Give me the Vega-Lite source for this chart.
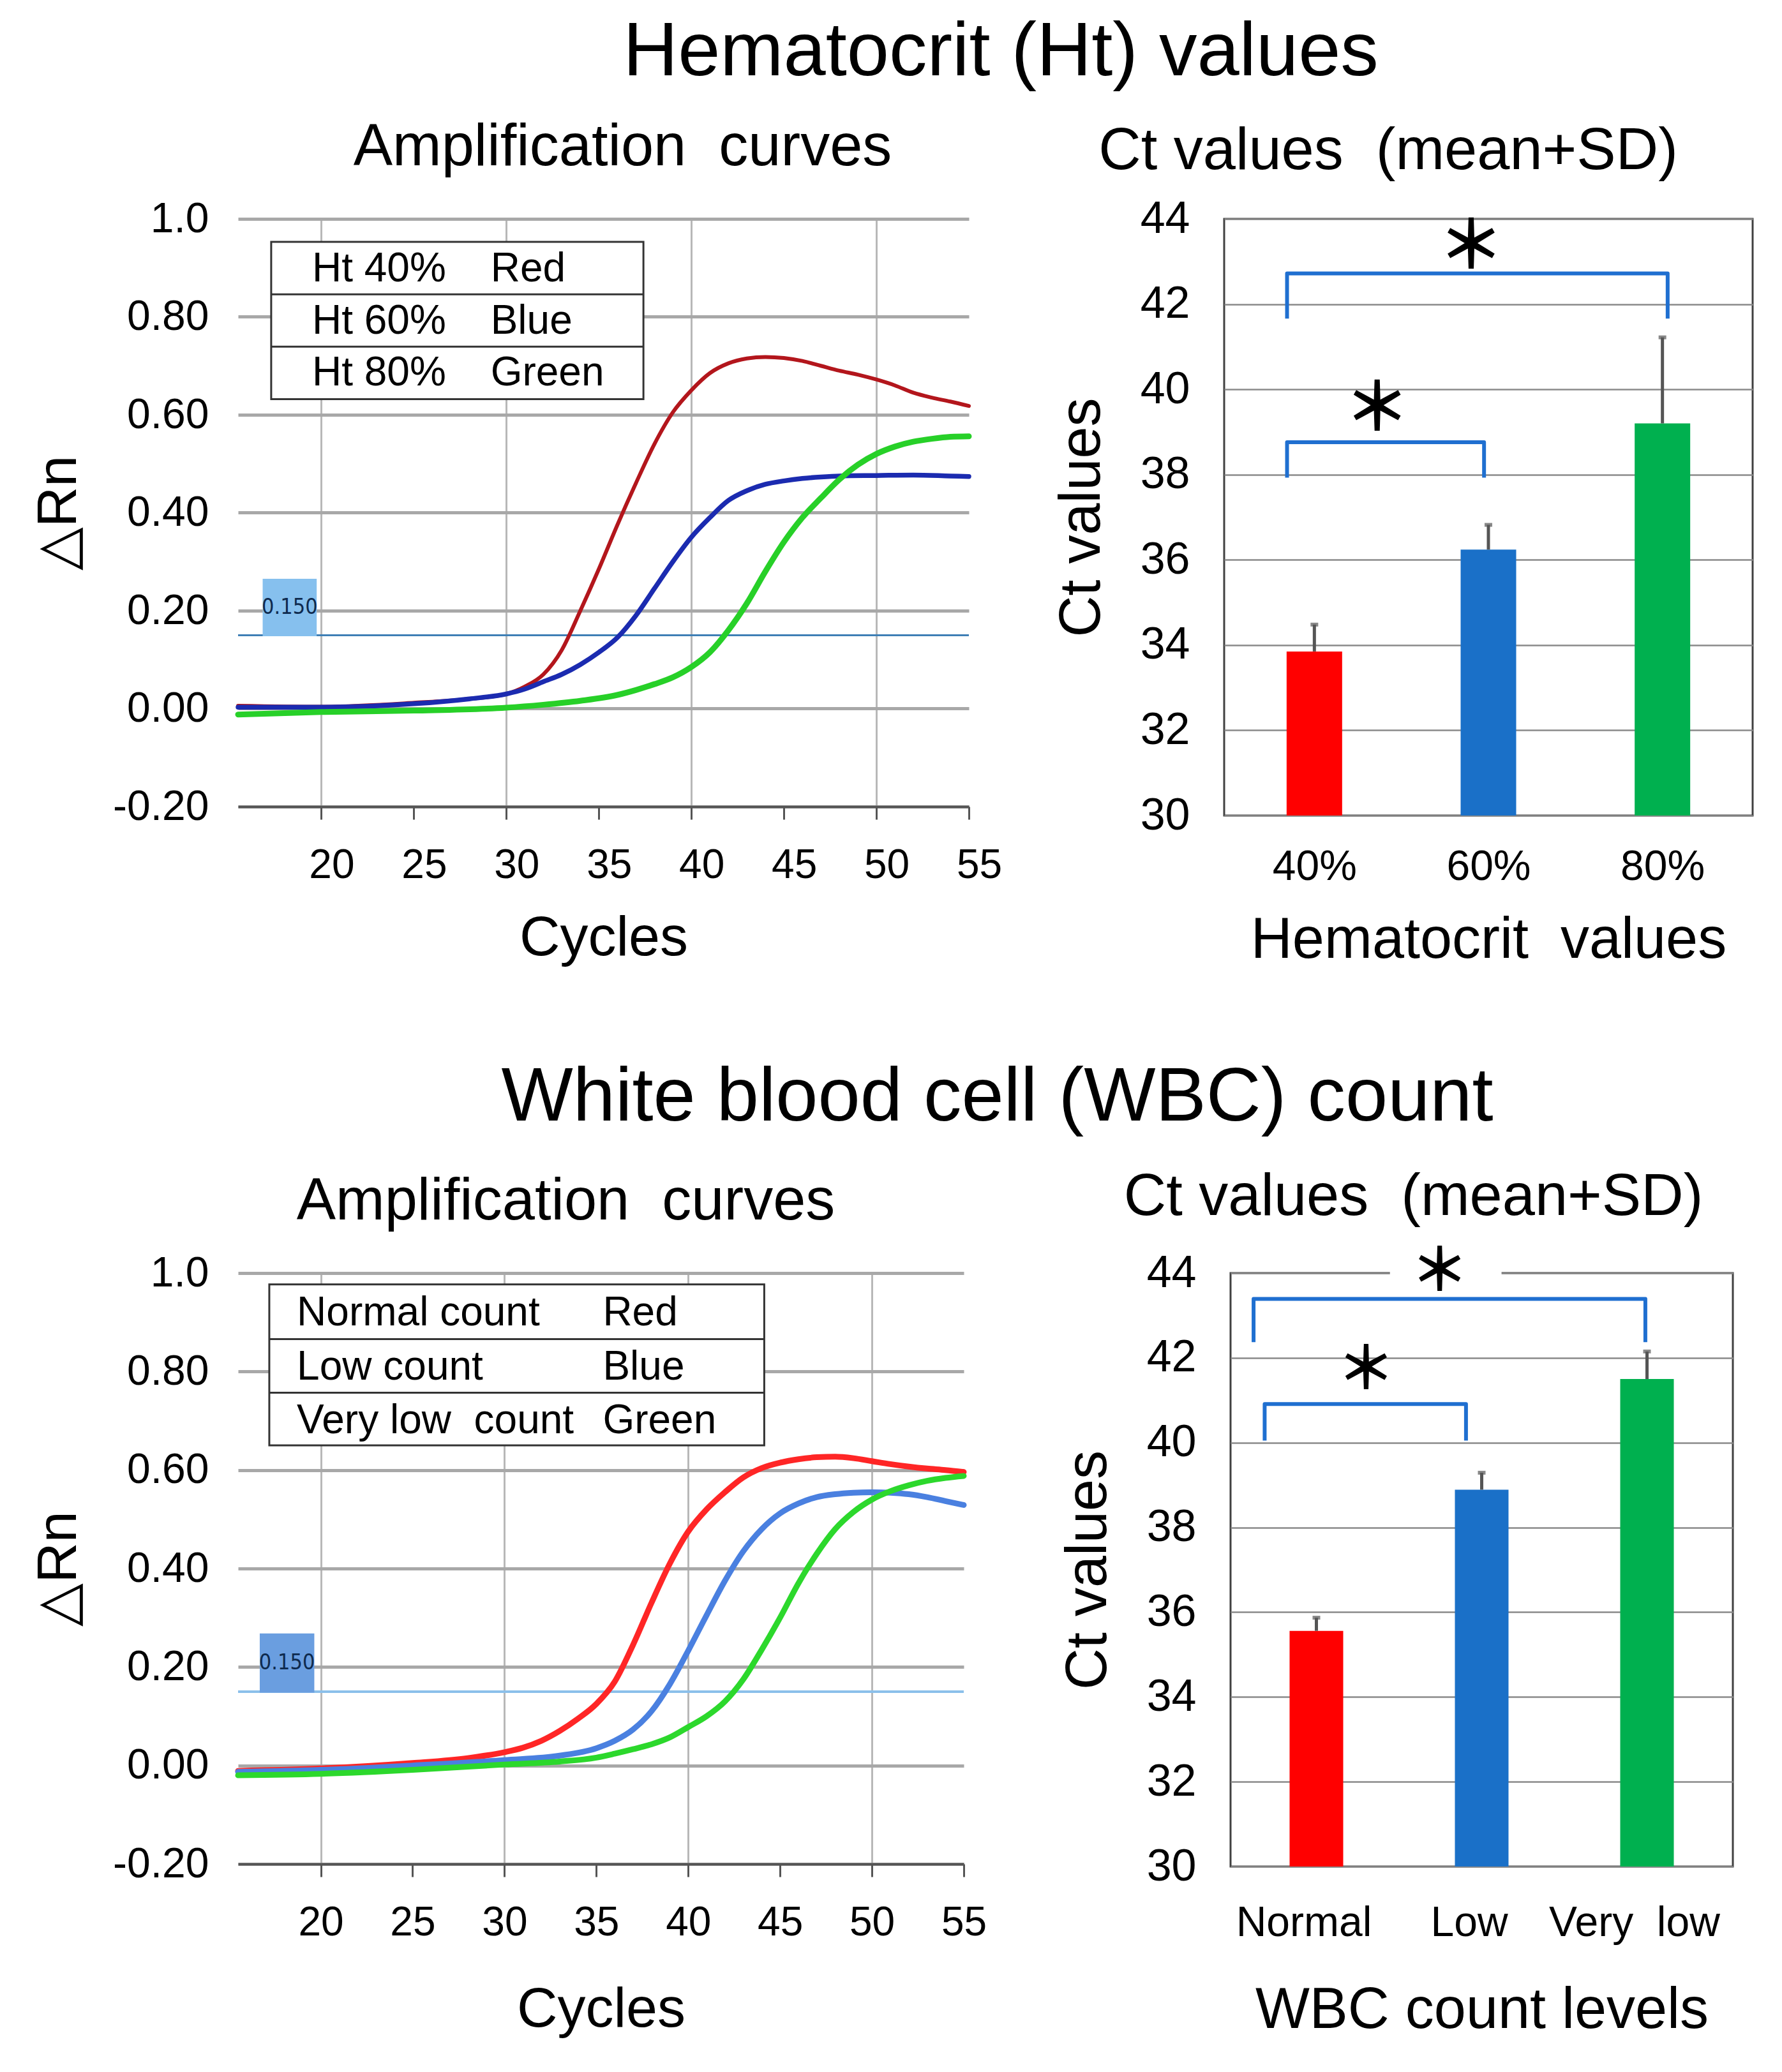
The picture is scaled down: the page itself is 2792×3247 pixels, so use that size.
{
  "$schema": "https://vega.github.io/schema/vega-lite/v6.json",
  "background": "white",
  "padding": {"left": 48, "top": 23, "right": 10, "bottom": 10},
  "config": {
    "font": "Liberation Sans",
    "view": {"stroke": null},
    "title": {"font": "Liberation Sans", "fontWeight": "normal", "color": "black"},
    "axis": {
      "labelFont": "Liberation Sans",
      "titleFont": "Liberation Sans",
      "labelColor": "black",
      "titleColor": "black",
      "titleFontWeight": "normal",
      "labelFlush": false,
      "labelOverlap": false,
      "labelLimit": 0
    }
  },
  "datasets": {
    "ht_curves": [
      {"cycle": 15.5, "dRn": 0.006, "sample": "Ht 40%"},
      {"cycle": 20, "dRn": 0.004, "sample": "Ht 40%"},
      {"cycle": 25, "dRn": 0.012, "sample": "Ht 40%"},
      {"cycle": 28, "dRn": 0.02, "sample": "Ht 40%"},
      {"cycle": 30, "dRn": 0.03, "sample": "Ht 40%"},
      {"cycle": 31, "dRn": 0.045, "sample": "Ht 40%"},
      {"cycle": 32, "dRn": 0.07, "sample": "Ht 40%"},
      {"cycle": 33, "dRn": 0.12, "sample": "Ht 40%"},
      {"cycle": 34, "dRn": 0.2, "sample": "Ht 40%"},
      {"cycle": 35, "dRn": 0.285, "sample": "Ht 40%"},
      {"cycle": 36, "dRn": 0.375, "sample": "Ht 40%"},
      {"cycle": 37, "dRn": 0.46, "sample": "Ht 40%"},
      {"cycle": 38, "dRn": 0.54, "sample": "Ht 40%"},
      {"cycle": 39, "dRn": 0.605, "sample": "Ht 40%"},
      {"cycle": 40, "dRn": 0.65, "sample": "Ht 40%"},
      {"cycle": 41, "dRn": 0.685, "sample": "Ht 40%"},
      {"cycle": 42, "dRn": 0.705, "sample": "Ht 40%"},
      {"cycle": 43, "dRn": 0.715, "sample": "Ht 40%"},
      {"cycle": 44, "dRn": 0.718, "sample": "Ht 40%"},
      {"cycle": 45, "dRn": 0.716, "sample": "Ht 40%"},
      {"cycle": 46, "dRn": 0.71, "sample": "Ht 40%"},
      {"cycle": 47, "dRn": 0.7, "sample": "Ht 40%"},
      {"cycle": 48, "dRn": 0.69, "sample": "Ht 40%"},
      {"cycle": 49, "dRn": 0.682, "sample": "Ht 40%"},
      {"cycle": 50, "dRn": 0.672, "sample": "Ht 40%"},
      {"cycle": 51, "dRn": 0.66, "sample": "Ht 40%"},
      {"cycle": 52, "dRn": 0.645, "sample": "Ht 40%"},
      {"cycle": 53, "dRn": 0.635, "sample": "Ht 40%"},
      {"cycle": 54, "dRn": 0.627, "sample": "Ht 40%"},
      {"cycle": 55, "dRn": 0.618, "sample": "Ht 40%"},
      {"cycle": 15.5, "dRn": 0.003, "sample": "Ht 60%"},
      {"cycle": 20, "dRn": 0.003, "sample": "Ht 60%"},
      {"cycle": 25, "dRn": 0.01, "sample": "Ht 60%"},
      {"cycle": 28, "dRn": 0.02, "sample": "Ht 60%"},
      {"cycle": 30, "dRn": 0.03, "sample": "Ht 60%"},
      {"cycle": 31, "dRn": 0.04, "sample": "Ht 60%"},
      {"cycle": 32, "dRn": 0.055, "sample": "Ht 60%"},
      {"cycle": 33, "dRn": 0.07, "sample": "Ht 60%"},
      {"cycle": 34, "dRn": 0.09, "sample": "Ht 60%"},
      {"cycle": 35, "dRn": 0.115, "sample": "Ht 60%"},
      {"cycle": 36, "dRn": 0.145, "sample": "Ht 60%"},
      {"cycle": 37, "dRn": 0.19, "sample": "Ht 60%"},
      {"cycle": 38, "dRn": 0.245, "sample": "Ht 60%"},
      {"cycle": 39, "dRn": 0.3, "sample": "Ht 60%"},
      {"cycle": 40, "dRn": 0.35, "sample": "Ht 60%"},
      {"cycle": 41, "dRn": 0.39, "sample": "Ht 60%"},
      {"cycle": 42, "dRn": 0.425, "sample": "Ht 60%"},
      {"cycle": 43, "dRn": 0.445, "sample": "Ht 60%"},
      {"cycle": 44, "dRn": 0.458, "sample": "Ht 60%"},
      {"cycle": 45, "dRn": 0.465, "sample": "Ht 60%"},
      {"cycle": 46, "dRn": 0.47, "sample": "Ht 60%"},
      {"cycle": 47, "dRn": 0.473, "sample": "Ht 60%"},
      {"cycle": 48, "dRn": 0.475, "sample": "Ht 60%"},
      {"cycle": 50, "dRn": 0.476, "sample": "Ht 60%"},
      {"cycle": 52, "dRn": 0.477, "sample": "Ht 60%"},
      {"cycle": 54, "dRn": 0.475, "sample": "Ht 60%"},
      {"cycle": 55, "dRn": 0.474, "sample": "Ht 60%"},
      {"cycle": 15.5, "dRn": -0.012, "sample": "Ht 80%"},
      {"cycle": 20, "dRn": -0.007, "sample": "Ht 80%"},
      {"cycle": 25, "dRn": -0.004, "sample": "Ht 80%"},
      {"cycle": 30, "dRn": 0.002, "sample": "Ht 80%"},
      {"cycle": 32, "dRn": 0.008, "sample": "Ht 80%"},
      {"cycle": 34, "dRn": 0.016, "sample": "Ht 80%"},
      {"cycle": 36, "dRn": 0.028, "sample": "Ht 80%"},
      {"cycle": 37, "dRn": 0.038, "sample": "Ht 80%"},
      {"cycle": 38, "dRn": 0.05, "sample": "Ht 80%"},
      {"cycle": 39, "dRn": 0.064, "sample": "Ht 80%"},
      {"cycle": 40, "dRn": 0.085, "sample": "Ht 80%"},
      {"cycle": 41, "dRn": 0.115, "sample": "Ht 80%"},
      {"cycle": 42, "dRn": 0.16, "sample": "Ht 80%"},
      {"cycle": 43, "dRn": 0.215, "sample": "Ht 80%"},
      {"cycle": 44, "dRn": 0.28, "sample": "Ht 80%"},
      {"cycle": 45, "dRn": 0.34, "sample": "Ht 80%"},
      {"cycle": 46, "dRn": 0.39, "sample": "Ht 80%"},
      {"cycle": 47, "dRn": 0.43, "sample": "Ht 80%"},
      {"cycle": 48, "dRn": 0.468, "sample": "Ht 80%"},
      {"cycle": 49, "dRn": 0.498, "sample": "Ht 80%"},
      {"cycle": 50, "dRn": 0.52, "sample": "Ht 80%"},
      {"cycle": 51, "dRn": 0.535, "sample": "Ht 80%"},
      {"cycle": 52, "dRn": 0.545, "sample": "Ht 80%"},
      {"cycle": 53, "dRn": 0.551, "sample": "Ht 80%"},
      {"cycle": 54, "dRn": 0.555, "sample": "Ht 80%"},
      {"cycle": 55, "dRn": 0.556, "sample": "Ht 80%"}
    ],
    "wbc_curves": [
      {"cycle": 15.5, "dRn": -0.011, "sample": "Normal"},
      {"cycle": 20, "dRn": -0.006, "sample": "Normal"},
      {"cycle": 25, "dRn": 0.005, "sample": "Normal"},
      {"cycle": 28, "dRn": 0.015, "sample": "Normal"},
      {"cycle": 30, "dRn": 0.027, "sample": "Normal"},
      {"cycle": 31, "dRn": 0.036, "sample": "Normal"},
      {"cycle": 32, "dRn": 0.05, "sample": "Normal"},
      {"cycle": 33, "dRn": 0.07, "sample": "Normal"},
      {"cycle": 34, "dRn": 0.095, "sample": "Normal"},
      {"cycle": 35, "dRn": 0.125, "sample": "Normal"},
      {"cycle": 36, "dRn": 0.17, "sample": "Normal"},
      {"cycle": 37, "dRn": 0.245, "sample": "Normal"},
      {"cycle": 38, "dRn": 0.33, "sample": "Normal"},
      {"cycle": 39, "dRn": 0.41, "sample": "Normal"},
      {"cycle": 40, "dRn": 0.475, "sample": "Normal"},
      {"cycle": 41, "dRn": 0.52, "sample": "Normal"},
      {"cycle": 42, "dRn": 0.555, "sample": "Normal"},
      {"cycle": 43, "dRn": 0.585, "sample": "Normal"},
      {"cycle": 44, "dRn": 0.604, "sample": "Normal"},
      {"cycle": 45, "dRn": 0.615, "sample": "Normal"},
      {"cycle": 46, "dRn": 0.622, "sample": "Normal"},
      {"cycle": 47, "dRn": 0.626, "sample": "Normal"},
      {"cycle": 48, "dRn": 0.627, "sample": "Normal"},
      {"cycle": 49, "dRn": 0.624, "sample": "Normal"},
      {"cycle": 50, "dRn": 0.618, "sample": "Normal"},
      {"cycle": 51, "dRn": 0.612, "sample": "Normal"},
      {"cycle": 52, "dRn": 0.607, "sample": "Normal"},
      {"cycle": 53, "dRn": 0.603, "sample": "Normal"},
      {"cycle": 54, "dRn": 0.6, "sample": "Normal"},
      {"cycle": 55, "dRn": 0.596, "sample": "Normal"},
      {"cycle": 15.5, "dRn": -0.013, "sample": "Low"},
      {"cycle": 20, "dRn": -0.009, "sample": "Low"},
      {"cycle": 25, "dRn": 0.0, "sample": "Low"},
      {"cycle": 30, "dRn": 0.011, "sample": "Low"},
      {"cycle": 33, "dRn": 0.02, "sample": "Low"},
      {"cycle": 35, "dRn": 0.035, "sample": "Low"},
      {"cycle": 36, "dRn": 0.05, "sample": "Low"},
      {"cycle": 37, "dRn": 0.073, "sample": "Low"},
      {"cycle": 38, "dRn": 0.11, "sample": "Low"},
      {"cycle": 39, "dRn": 0.165, "sample": "Low"},
      {"cycle": 40, "dRn": 0.233, "sample": "Low"},
      {"cycle": 41, "dRn": 0.305, "sample": "Low"},
      {"cycle": 42, "dRn": 0.375, "sample": "Low"},
      {"cycle": 43, "dRn": 0.435, "sample": "Low"},
      {"cycle": 44, "dRn": 0.48, "sample": "Low"},
      {"cycle": 45, "dRn": 0.512, "sample": "Low"},
      {"cycle": 46, "dRn": 0.532, "sample": "Low"},
      {"cycle": 47, "dRn": 0.545, "sample": "Low"},
      {"cycle": 48, "dRn": 0.551, "sample": "Low"},
      {"cycle": 49, "dRn": 0.554, "sample": "Low"},
      {"cycle": 50, "dRn": 0.555, "sample": "Low"},
      {"cycle": 51, "dRn": 0.554, "sample": "Low"},
      {"cycle": 52, "dRn": 0.551, "sample": "Low"},
      {"cycle": 53, "dRn": 0.545, "sample": "Low"},
      {"cycle": 54, "dRn": 0.537, "sample": "Low"},
      {"cycle": 55, "dRn": 0.529, "sample": "Low"},
      {"cycle": 15.5, "dRn": -0.02, "sample": "Very low"},
      {"cycle": 20, "dRn": -0.017, "sample": "Very low"},
      {"cycle": 25, "dRn": -0.009, "sample": "Very low"},
      {"cycle": 30, "dRn": 0.002, "sample": "Very low"},
      {"cycle": 33, "dRn": 0.008, "sample": "Very low"},
      {"cycle": 35, "dRn": 0.016, "sample": "Very low"},
      {"cycle": 36, "dRn": 0.024, "sample": "Very low"},
      {"cycle": 37, "dRn": 0.033, "sample": "Very low"},
      {"cycle": 38, "dRn": 0.043, "sample": "Very low"},
      {"cycle": 39, "dRn": 0.057, "sample": "Very low"},
      {"cycle": 40, "dRn": 0.078, "sample": "Very low"},
      {"cycle": 41, "dRn": 0.1, "sample": "Very low"},
      {"cycle": 42, "dRn": 0.13, "sample": "Very low"},
      {"cycle": 43, "dRn": 0.175, "sample": "Very low"},
      {"cycle": 44, "dRn": 0.235, "sample": "Very low"},
      {"cycle": 45, "dRn": 0.3, "sample": "Very low"},
      {"cycle": 46, "dRn": 0.37, "sample": "Very low"},
      {"cycle": 47, "dRn": 0.43, "sample": "Very low"},
      {"cycle": 48, "dRn": 0.48, "sample": "Very low"},
      {"cycle": 49, "dRn": 0.515, "sample": "Very low"},
      {"cycle": 50, "dRn": 0.54, "sample": "Very low"},
      {"cycle": 51, "dRn": 0.557, "sample": "Very low"},
      {"cycle": 52, "dRn": 0.569, "sample": "Very low"},
      {"cycle": 53, "dRn": 0.578, "sample": "Very low"},
      {"cycle": 54, "dRn": 0.584, "sample": "Very low"},
      {"cycle": 55, "dRn": 0.588, "sample": "Very low"}
    ],
    "ht_ct": [
      {"pos": 1, "level": "40%", "mean": 33.85, "upper": 34.48},
      {"pos": 2, "level": "60%", "mean": 36.24, "upper": 36.82},
      {"pos": 3, "level": "80%", "mean": 39.2, "upper": 41.22}
    ],
    "wbc_ct": [
      {"pos": 1, "level": "Normal", "mean": 35.56, "upper": 35.87},
      {"pos": 2, "level": "Low", "mean": 38.89, "upper": 39.29},
      {"pos": 3, "level": "Very low", "mean": 41.5, "upper": 42.15}
    ],
    "ht_brackets": [
      {"pair": "40-60", "k": 1, "pos": 0.843, "ct": 37.93},
      {"pair": "40-60", "k": 2, "pos": 0.843, "ct": 38.76},
      {"pair": "40-60", "k": 3, "pos": 1.975, "ct": 38.76},
      {"pair": "40-60", "k": 4, "pos": 1.975, "ct": 37.93},
      {"pair": "40-80", "k": 1, "pos": 0.843, "ct": 41.66},
      {"pair": "40-80", "k": 2, "pos": 0.843, "ct": 42.72},
      {"pair": "40-80", "k": 3, "pos": 3.03, "ct": 42.72},
      {"pair": "40-80", "k": 4, "pos": 3.03, "ct": 41.66}
    ],
    "wbc_brackets": [
      {"pair": "N-L", "k": 1, "pos": 0.687, "ct": 40.05},
      {"pair": "N-L", "k": 2, "pos": 0.687, "ct": 40.91},
      {"pair": "N-L", "k": 3, "pos": 1.905, "ct": 40.91},
      {"pair": "N-L", "k": 4, "pos": 1.905, "ct": 40.05},
      {"pair": "N-VL", "k": 1, "pos": 0.62, "ct": 42.37},
      {"pair": "N-VL", "k": 2, "pos": 0.62, "ct": 43.39},
      {"pair": "N-VL", "k": 3, "pos": 2.99, "ct": 43.39},
      {"pair": "N-VL", "k": 4, "pos": 2.99, "ct": 42.37}
    ]
  },
  "resolve": {"scale": {"color": "independent", "strokeWidth": "independent"}},
  "spacing": 140,
  "vconcat": [
    {
      "title": {"text": "Hematocrit (Ht) values", "fontSize": 119, "anchor": "middle", "dx": 170, "offset": 42},
      "spacing": 78,
      "resolve": {"scale": {"color": "independent", "strokeWidth": "independent"}},
      "hconcat": [
        {
          "width": 1145,
          "height": 921,
          "title": {"text": "Amplification\u00a0 curves", "fontSize": 92, "anchor": "middle", "frame": "group", "dx": 30, "offset": 32},
          "layer": [
            {
              "data": {"values": [{"dRn": 0.15}]},
              "mark": {"type": "rule", "color": "#3f7fb5", "strokeWidth": 3},
              "encoding": {
                "y": {"field": "dRn", "type": "quantitative", "title": "△Rn"}
              }
            },
            {
              "data": {"values": [{"cycle": 16.83, "cycle_end": 19.75, "dRn": 0.148, "dRn_end": 0.265}]},
              "mark": {"type": "rect", "fill": "#86c0ee"},
              "encoding": {
                "x": {"field": "cycle", "type": "quantitative", "title": "Cycles"},
                "x2": {"field": "cycle_end"},
                "y": {"field": "dRn", "type": "quantitative", "title": "△Rn"},
                "y2": {"field": "dRn_end"}
              }
            },
            {
              "data": {"values": [{"cycle": 18.29, "dRn": 0.207, "label": "0.150"}]},
              "mark": {"type": "text", "font": "DejaVu Sans Condensed, Liberation Sans", "fontSize": 34, "color": "#0e2a4e", "align": "center", "baseline": "middle"},
              "encoding": {
                "x": {"field": "cycle", "type": "quantitative", "title": "Cycles"},
                "y": {"field": "dRn", "type": "quantitative", "title": "△Rn"},
                "text": {"field": "label"}
              }
            },
            {
              "data": {"name": "ht_curves"},
              "mark": {"type": "line", "interpolate": "monotone", "strokeCap": "round"},
              "encoding": {
                "x": {
                  "field": "cycle", "type": "quantitative", "title": "Cycles",
                  "scale": {"domain": [15.5, 55], "nice": false, "zero": false},
                  "axis": {
                    "values": [20, 25, 30, 35, 40, 45, 50, 55],
                    "grid": true,
                    "gridColor": "#b8b8b8",
                    "gridWidth": 3,
                    "gridOpacity": {"condition": {"test": "datum.value % 10 === 0", "value": 1}, "value": 0},
                    "domainColor": "#555555",
                    "domainWidth": 4,
                    "tickColor": "#555555",
                    "tickWidth": 3,
                    "tickSize": 20,
                    "labelFontSize": 64,
                    "labelPadding": 40,
                    "labelOffset": 16,
                    "titleFontSize": 88,
                    "titlePadding": 38
                  }
                },
                "y": {
                  "field": "dRn", "type": "quantitative", "title": "△Rn",
                  "scale": {"domain": [-0.2, 1.0], "nice": false, "zero": false},
                  "axis": {
                    "values": [-0.2, 0, 0.2, 0.4, 0.6, 0.8, 1.0],
                    "labelExpr": "datum.value >= 1 ? '1.0' : datum.value < 0 ? '-0.20' : format(datum.value, '.2f')",
                    "grid": true,
                    "gridColor": "#a8a8a8",
                    "gridWidth": 5,
                    "domain": false,
                    "ticks": false,
                    "labelFontSize": 66,
                    "labelPadding": 46,
                    "titleFontSize": 88,
                    "titlePadding": 40
                  }
                },
                "color": {
                  "field": "sample", "type": "nominal",
                  "scale": {"domain": ["Ht 40%", "Ht 60%", "Ht 80%"], "range": ["#b3161c", "#1b2bb0", "#27d028"]},
                  "legend": null
                },
                "strokeWidth": {
                  "field": "sample", "type": "nominal",
                  "scale": {"domain": ["Ht 40%", "Ht 60%", "Ht 80%"], "range": [6, 9, 10]},
                  "legend": null
                }
              }
            },
            {
              "data": {"values": [{"cycle": 17.29, "cycle_end": 37.41, "dRn": 0.632, "dRn_end": 0.953}]},
              "mark": {"type": "rect", "fill": "white", "stroke": "#333333", "strokeWidth": 3},
              "encoding": {
                "x": {"field": "cycle", "type": "quantitative", "title": "Cycles"},
                "x2": {"field": "cycle_end"},
                "y": {"field": "dRn", "type": "quantitative", "title": "△Rn"},
                "y2": {"field": "dRn_end"}
              }
            },
            {
              "data": {"values": [{"cycle": 17.29, "cycle_end": 37.41, "dRn": 0.846}, {"cycle": 17.29, "cycle_end": 37.41, "dRn": 0.739}]},
              "mark": {"type": "rule", "color": "#333333", "strokeWidth": 3},
              "encoding": {
                "x": {"field": "cycle", "type": "quantitative", "title": "Cycles"},
                "x2": {"field": "cycle_end"},
                "y": {"field": "dRn", "type": "quantitative", "title": "△Rn"}
              }
            },
            {
              "data": {"values": [
                {"cycle": 19.5, "dRn": 0.897, "t": "Ht 40%"},
                {"cycle": 29.15, "dRn": 0.897, "t": "Red"},
                {"cycle": 19.5, "dRn": 0.79, "t": "Ht 60%"},
                {"cycle": 29.15, "dRn": 0.79, "t": "Blue"},
                {"cycle": 19.5, "dRn": 0.685, "t": "Ht 80%"},
                {"cycle": 29.15, "dRn": 0.685, "t": "Green"}
              ]},
              "mark": {"type": "text", "fontSize": 64, "align": "left", "baseline": "middle", "color": "black"},
              "encoding": {
                "x": {"field": "cycle", "type": "quantitative", "title": "Cycles"},
                "y": {"field": "dRn", "type": "quantitative", "title": "△Rn"},
                "text": {"field": "t"}
              }
            }
          ]
        },
        {
          "width": 828,
          "height": 935,
          "title": {"text": "Ct values\u00a0 (mean+SD)", "fontSize": 92, "anchor": "middle", "frame": "group", "dx": -157, "offset": 24},
          "view": {"stroke": "#404040", "strokeWidth": 3},
          "layer": [
            {
              "data": {"name": "ht_ct"},
              "mark": {"type": "bar", "width": 87},
              "encoding": {
                "x": {
                  "field": "pos", "type": "quantitative", "title": "Hematocrit\u00a0 values",
                  "scale": {"domain": [0.5, 3.5], "nice": false, "zero": false},
                  "axis": {
                    "values": [1, 2, 3],
                    "labelExpr": "datum.value == 1 ? '40%' : datum.value == 2 ? '60%' : '80%'",
                    "grid": false,
                    "domain": false,
                    "ticks": false,
                    "labelFontSize": 66,
                    "labelPadding": 48,
                    "titleFontSize": 90,
                    "titlePadding": 38
                  }
                },
                "y": {
                  "field": "mean", "type": "quantitative", "title": "Ct values",
                  "scale": {"domain": [30, 44], "nice": false, "zero": false},
                  "axis": {
                    "values": [30, 32, 34, 36, 38, 40, 42, 44],
                    "format": "d",
                    "grid": true,
                    "gridColor": "#8a8a8a",
                    "gridWidth": 2.5,
                    "domain": false,
                    "ticks": false,
                    "labelFontSize": 70,
                    "labelPadding": 54,
                    "titleFontSize": 90,
                    "titlePadding": 45
                  }
                },
                "y2": {"datum": 30},
                "color": {
                  "field": "level", "type": "nominal",
                  "scale": {"domain": ["40%", "60%", "80%"], "range": ["#ff0000", "#1a70c8", "#00b04f"]},
                  "legend": null
                }
              }
            },
            {
              "data": {"name": "ht_ct"},
              "mark": {"type": "rule", "color": "#555555", "strokeWidth": 5},
              "encoding": {
                "x": {"field": "pos", "type": "quantitative", "title": "Hematocrit\u00a0 values"},
                "y": {"field": "mean", "type": "quantitative", "title": "Ct values"},
                "y2": {"field": "upper"}
              }
            },
            {
              "data": {"name": "ht_ct"},
              "mark": {"type": "tick", "orient": "horizontal", "color": "#555555", "size": 12, "thickness": 6},
              "encoding": {
                "x": {"field": "pos", "type": "quantitative", "title": "Hematocrit\u00a0 values"},
                "y": {"field": "upper", "type": "quantitative", "title": "Ct values"}
              }
            },
            {
              "data": {"name": "ht_brackets"},
              "mark": {"type": "line", "color": "#1f6fd0", "strokeWidth": 6, "strokeJoin": "round"},
              "encoding": {
                "x": {"field": "pos", "type": "quantitative", "title": "Hematocrit\u00a0 values"},
                "y": {"field": "ct", "type": "quantitative", "title": "Ct values"},
                "detail": {"field": "pair"},
                "order": {"field": "k"}
              }
            },
            {
              "data": {"values": [{"pos": 1.36, "ct": 39.49, "s": "＊"}, {"pos": 1.9, "ct": 43.3, "s": "＊"}]},
              "mark": {"type": "text", "font": "Noto Sans CJK JP", "fontWeight": "bold", "fontSize": 104, "align": "center", "baseline": "middle", "color": "black"},
              "encoding": {
                "x": {"field": "pos", "type": "quantitative", "title": "Hematocrit\u00a0 values"},
                "y": {"field": "ct", "type": "quantitative", "title": "Ct values"},
                "text": {"field": "s"}
              }
            }
          ]
        }
      ]
    },
    {
      "title": {"text": "White blood cell (WBC) count", "fontSize": 119, "anchor": "middle", "dx": 180, "offset": 48},
      "spacing": 112,
      "resolve": {"scale": {"color": "independent", "strokeWidth": "independent"}},
      "hconcat": [
        {
          "width": 1137,
          "height": 926,
          "title": {"text": "Amplification\u00a0 curves", "fontSize": 92, "anchor": "middle", "frame": "group", "dx": -55, "offset": 32},
          "layer": [
            {
              "data": {"values": [{"dRn": 0.15}]},
              "mark": {"type": "rule", "color": "#8cc0ea", "strokeWidth": 4},
              "encoding": {
                "y": {"field": "dRn", "type": "quantitative", "title": "△Rn"}
              }
            },
            {
              "data": {"values": [{"cycle": 16.68, "cycle_end": 19.65, "dRn": 0.148, "dRn_end": 0.268}]},
              "mark": {"type": "rect", "fill": "#6a9ee0"},
              "encoding": {
                "x": {"field": "cycle", "type": "quantitative", "title": "Cycles"},
                "x2": {"field": "cycle_end"},
                "y": {"field": "dRn", "type": "quantitative", "title": "△Rn"},
                "y2": {"field": "dRn_end"}
              }
            },
            {
              "data": {"values": [{"cycle": 18.16, "dRn": 0.208, "label": "0.150"}]},
              "mark": {"type": "text", "font": "DejaVu Sans Condensed, Liberation Sans", "fontSize": 34, "color": "#0e2a4e", "align": "center", "baseline": "middle"},
              "encoding": {
                "x": {"field": "cycle", "type": "quantitative", "title": "Cycles"},
                "y": {"field": "dRn", "type": "quantitative", "title": "△Rn"},
                "text": {"field": "label"}
              }
            },
            {
              "data": {"name": "wbc_curves"},
              "mark": {"type": "line", "interpolate": "monotone", "strokeCap": "round"},
              "encoding": {
                "x": {
                  "field": "cycle", "type": "quantitative", "title": "Cycles",
                  "scale": {"domain": [15.5, 55], "nice": false, "zero": false},
                  "axis": {
                    "values": [20, 25, 30, 35, 40, 45, 50, 55],
                    "grid": true,
                    "gridColor": "#b8b8b8",
                    "gridWidth": 3,
                    "gridOpacity": {"condition": {"test": "datum.value % 10 === 0", "value": 1}, "value": 0},
                    "domainColor": "#555555",
                    "domainWidth": 4,
                    "tickColor": "#555555",
                    "tickWidth": 3,
                    "tickSize": 20,
                    "labelFontSize": 64,
                    "labelPadding": 40,
                    "labelOffset": 0,
                    "titleFontSize": 88,
                    "titlePadding": 60
                  }
                },
                "y": {
                  "field": "dRn", "type": "quantitative", "title": "△Rn",
                  "scale": {"domain": [-0.2, 1.0], "nice": false, "zero": false},
                  "axis": {
                    "values": [-0.2, 0, 0.2, 0.4, 0.6, 0.8, 1.0],
                    "labelExpr": "datum.value >= 1 ? '1.0' : datum.value < 0 ? '-0.20' : format(datum.value, '.2f')",
                    "grid": true,
                    "gridColor": "#a8a8a8",
                    "gridWidth": 5,
                    "domain": false,
                    "ticks": false,
                    "labelFontSize": 66,
                    "labelPadding": 46,
                    "titleFontSize": 88,
                    "titlePadding": 40
                  }
                },
                "color": {
                  "field": "sample", "type": "nominal",
                  "scale": {"domain": ["Normal", "Low", "Very low"], "range": ["#ff2626", "#4a80e0", "#2cd82c"]},
                  "legend": null
                },
                "strokeWidth": {
                  "field": "sample", "type": "nominal",
                  "scale": {"domain": ["Normal", "Low", "Very low"], "range": [9, 9, 10]},
                  "legend": null
                }
              }
            },
            {
              "data": {"values": [{"cycle": 17.2, "cycle_end": 44.14, "dRn": 0.65, "dRn_end": 0.977}]},
              "mark": {"type": "rect", "fill": "white", "stroke": "#333333", "strokeWidth": 3},
              "encoding": {
                "x": {"field": "cycle", "type": "quantitative", "title": "Cycles"},
                "x2": {"field": "cycle_end"},
                "y": {"field": "dRn", "type": "quantitative", "title": "△Rn"},
                "y2": {"field": "dRn_end"}
              }
            },
            {
              "data": {"values": [{"cycle": 17.2, "cycle_end": 44.14, "dRn": 0.866}, {"cycle": 17.2, "cycle_end": 44.14, "dRn": 0.757}]},
              "mark": {"type": "rule", "color": "#333333", "strokeWidth": 3},
              "encoding": {
                "x": {"field": "cycle", "type": "quantitative", "title": "Cycles"},
                "x2": {"field": "cycle_end"},
                "y": {"field": "dRn", "type": "quantitative", "title": "△Rn"}
              }
            },
            {
              "data": {"values": [
                {"cycle": 18.7, "dRn": 0.919, "t": "Normal count"},
                {"cycle": 35.35, "dRn": 0.919, "t": "Red"},
                {"cycle": 18.7, "dRn": 0.808, "t": "Low count"},
                {"cycle": 35.35, "dRn": 0.808, "t": "Blue"},
                {"cycle": 18.7, "dRn": 0.7, "t": "Very low\u00a0 count"},
                {"cycle": 35.35, "dRn": 0.7, "t": "Green"}
              ]},
              "mark": {"type": "text", "fontSize": 64, "align": "left", "baseline": "middle", "color": "black"},
              "encoding": {
                "x": {"field": "cycle", "type": "quantitative", "title": "Cycles"},
                "y": {"field": "dRn", "type": "quantitative", "title": "△Rn"},
                "text": {"field": "t"}
              }
            }
          ]
        },
        {
          "width": 787,
          "height": 930,
          "title": {"text": "Ct values\u00a0 (mean+SD)", "fontSize": 92, "anchor": "middle", "frame": "group", "dx": -107, "offset": 26},
          "view": {"stroke": "#404040", "strokeWidth": 3},
          "layer": [
            {
              "data": {"name": "wbc_ct"},
              "mark": {"type": "bar", "width": 84},
              "encoding": {
                "x": {
                  "field": "pos", "type": "quantitative", "title": "WBC count levels",
                  "scale": {"domain": [0.5, 3.5], "nice": false, "zero": false},
                  "axis": {
                    "values": [1, 2, 3],
                    "labelExpr": "datum.value == 1 ? 'Normal' : datum.value == 2 ? 'Low' : 'Very\u00a0 low'",
                    "grid": false,
                    "domain": false,
                    "ticks": false,
                    "labelFontSize": 66,
                    "labelPadding": 56,
                    "labelOffset": -20,
                    "titleFontSize": 90,
                    "titlePadding": 60
                  }
                },
                "y": {
                  "field": "mean", "type": "quantitative", "title": "Ct values",
                  "scale": {"domain": [30, 44], "nice": false, "zero": false},
                  "axis": {
                    "values": [30, 32, 34, 36, 38, 40, 42, 44],
                    "format": "d",
                    "grid": true,
                    "gridColor": "#8a8a8a",
                    "gridWidth": 2.5,
                    "domain": false,
                    "ticks": false,
                    "labelFontSize": 70,
                    "labelPadding": 54,
                    "titleFontSize": 90,
                    "titlePadding": 45
                  }
                },
                "y2": {"datum": 30},
                "color": {
                  "field": "level", "type": "nominal",
                  "scale": {"domain": ["Normal", "Low", "Very low"], "range": ["#ff0000", "#1a70c8", "#00b04f"]},
                  "legend": null
                }
              }
            },
            {
              "data": {"name": "wbc_ct"},
              "mark": {"type": "rule", "color": "#555555", "strokeWidth": 5},
              "encoding": {
                "x": {"field": "pos", "type": "quantitative", "title": "WBC count levels"},
                "y": {"field": "mean", "type": "quantitative", "title": "Ct values"},
                "y2": {"field": "upper"}
              }
            },
            {
              "data": {"name": "wbc_ct"},
              "mark": {"type": "tick", "orient": "horizontal", "color": "#555555", "size": 12, "thickness": 6},
              "encoding": {
                "x": {"field": "pos", "type": "quantitative", "title": "WBC count levels"},
                "y": {"field": "upper", "type": "quantitative", "title": "Ct values"}
              }
            },
            {
              "data": {"values": [{"pos": 1.445, "pos_end": 2.12, "ct": 44}]},
              "mark": {"type": "rule", "color": "white", "strokeWidth": 8},
              "encoding": {
                "x": {"field": "pos", "type": "quantitative", "title": "WBC count levels"},
                "x2": {"field": "pos_end"},
                "y": {"field": "ct", "type": "quantitative", "title": "Ct values"}
              }
            },
            {
              "data": {"name": "wbc_brackets"},
              "mark": {"type": "line", "color": "#1f6fd0", "strokeWidth": 6, "strokeJoin": "round"},
              "encoding": {
                "x": {"field": "pos", "type": "quantitative", "title": "WBC count levels"},
                "y": {"field": "ct", "type": "quantitative", "title": "Ct values"},
                "detail": {"field": "pair"},
                "order": {"field": "k"}
              }
            },
            {
              "data": {"values": [{"pos": 1.3, "ct": 41.68, "s": "＊"}, {"pos": 1.745, "ct": 44.0, "s": "＊"}]},
              "mark": {"type": "text", "font": "Noto Sans CJK JP", "fontWeight": "bold", "fontSize": 92, "align": "center", "baseline": "middle", "color": "black"},
              "encoding": {
                "x": {"field": "pos", "type": "quantitative", "title": "WBC count levels"},
                "y": {"field": "ct", "type": "quantitative", "title": "Ct values"},
                "text": {"field": "s"}
              }
            }
          ]
        }
      ]
    }
  ]
}
